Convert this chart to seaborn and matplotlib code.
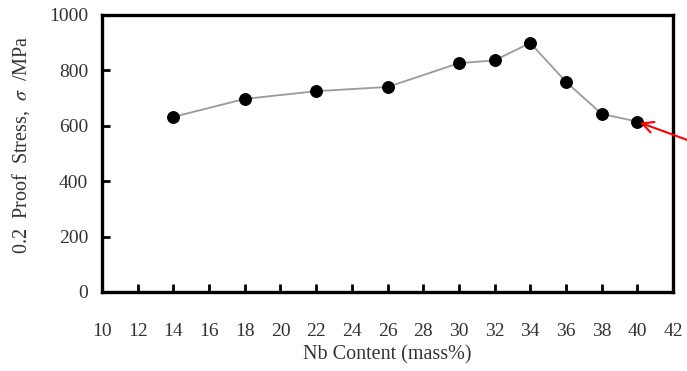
import matplotlib
matplotlib.use("Agg")
import matplotlib.pyplot as plt
import seaborn as sns
import pandas as pd

nb_content = [14, 18, 22, 26, 30, 32, 34, 36, 38, 40]
proof_stress = [632, 697, 725, 740, 826, 836, 899, 759, 643, 615]
x_ticks = list(range(10, 43, 2))
y_ticks = list(range(0, 1001, 200))

sns.set_style("white")
plt.rcParams['font.family'] = ['Liberation Serif', 'DejaVu Serif']
plt.rcParams['mathtext.fontset'] = 'stix'

df = pd.DataFrame({"nb": nb_content, "stress": proof_stress})

fig = plt.figure(figsize=(6.87, 3.71), dpi=100)
ax = fig.add_axes([0.1485, 0.213, 0.8311, 0.7466])

sns.lineplot(data=df, x="nb", y="stress", ax=ax, color="#9a9a9a", lw=1.3,
             marker="o", markersize=8.5, markerfacecolor="black",
             markeredgecolor="black", zorder=3)

ax.set_xlim(10, 42)
ax.set_ylim(0, 1000)
ax.set_xticks(x_ticks)
ax.set_yticks(y_ticks)
ax.tick_params(axis="both", direction="in", length=6, width=2, labelsize=14,
               colors="black", bottom=True, left=True, top=False, right=False)
ax.tick_params(axis="x", pad=22)
ax.tick_params(axis="y", pad=10)
for lab in ax.get_xticklabels() + ax.get_yticklabels():
    lab.set_color("#333333")
for sp in ax.spines.values():
    sp.set_linewidth(2.4)
    sp.set_color("black")

ax.set_xlabel("Nb Content (mass%)", fontsize=14.5, color="#333333", labelpad=4)
ax.set_ylabel(r"0.2  Proof  Stress,  $\sigma$  /MPa", fontsize=14.5, color="#333333",
              labelpad=12, y=0.53)

ax.annotate("", xy=(nb_content[-1], proof_stress[-1]), xycoords="data",
            xytext=(1.03, 0.545), textcoords="axes fraction",
            arrowprops=dict(arrowstyle="->", color="red", lw=1.5,
                            mutation_scale=20, shrinkA=0, shrinkB=2),
            annotation_clip=False)

fig.savefig("out.png", dpi=100)
